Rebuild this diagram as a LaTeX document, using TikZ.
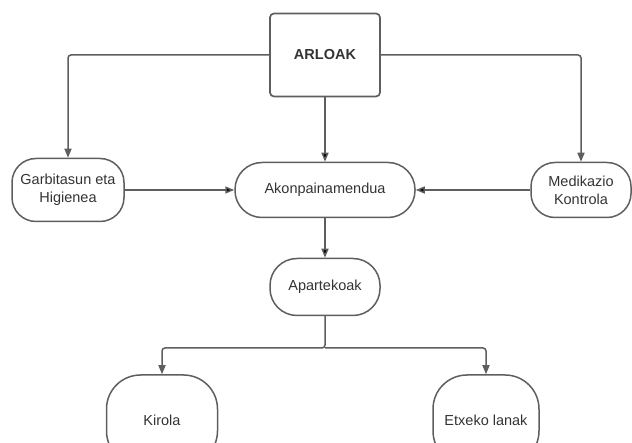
\documentclass[tikz,border=0pt]{standalone}
\usepackage{fontspec}
\setmainfont{Liberation Sans}
\usetikzlibrary{shapes,arrows.meta,positioning}
\definecolor{linegray}{HTML}{5E5E5E}
\definecolor{textgray}{HTML}{333333}

\begin{document}
\begin{tikzpicture}[x=1pt,y=1pt,on grid,>={Triangle[length=9pt,width=7pt]},
   every node/.style={text=textgray,font=\fontsize{14.5}{18}\selectfont},
   area/.style={draw=linegray,line width=1.7pt,rounded corners=4pt,minimum width=110pt,
      minimum height=83pt,font=\bfseries\fontsize{14.5}{18}\selectfont},
   term/.style={draw=linegray,line width=1.5pt,rounded corners=24pt,align=center,inner sep=2pt},
   link/.style={draw=linegray,line width=1.5pt,rounded corners=3pt}]
   \useasboundingbox (0,0) rectangle (632,-443);
   \clip (0,0) rectangle (632,-443);
   % head and first row
   \node[area] (arloak) at (325,-55) {ARLOAK};
   \node[term,minimum width=180pt,minimum height=55pt,rounded corners=27pt] (akon) [below=135pt of arloak] {Akonpainamendua};
   \node[term,minimum width=112pt,minimum height=63pt] (garbi) [left=257pt of akon] {Garbitasun eta\\Higienea};
   \node[term,minimum width=100pt,minimum height=55pt] (medi) [right=256pt of akon] {Medikazio\\Kontrola};
   % second and third row
   \node[term,minimum width=110pt,minimum height=57pt,rounded corners=27pt] (apart) [below=97pt of akon] {Apartekoak};
   \node[term,minimum width=111pt,minimum height=90pt,rounded corners=34pt] (kirola) [below left=133pt and 163pt of apart] {Kirola};
   \node[term,minimum width=106pt,minimum height=90pt,rounded corners=34pt] (etxeko) [below right=133pt and 161pt of apart] {Etxeko lanak};
   \coordinate[below=61pt of apart] (fork);
    \path[link,->]
    (arloak) edge (akon)
    (garbi) edge (akon)
    (medi) edge (akon)
    (akon) edge (apart);
    \draw[link,->] (arloak.west) -| (garbi.north);
    \draw[link,->] (arloak.east) -| (medi.north);
    \draw[link,->] (apart.south) -- (fork) -| (kirola.north);
    \draw[link,->] (fork) -| (etxeko.north);
\end{tikzpicture}
\end{document}
